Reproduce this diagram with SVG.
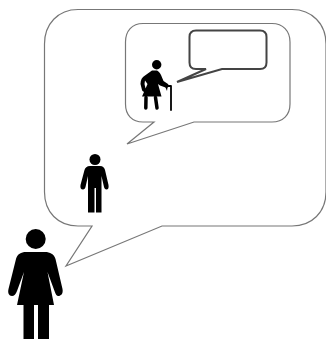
<svg xmlns="http://www.w3.org/2000/svg" width="326" height="341" viewBox="0 0 326 341">
<style>
.b{fill:#fff;stroke:#777;stroke-width:1.2;stroke-linejoin:miter}
.p{fill:#000;stroke:none}
.l{fill:none;stroke:#000;stroke-linecap:round;stroke-linejoin:round}
</style>
<rect width="326" height="341" fill="#fff"/>
<g id="outer-bubble"><path class="b" d="M78 9.500H292C312 9.500 326 24 326 44V192C326 212 312 226 292 226H162L66 266L92 226H78C58 226 44.500 212 44.500 192V44C44.500 24 58 9.500 78 9.500Z"/></g>
<g id="inner-bubble"><path class="b" d="M143 23.500H272C283 23.500 290 31 290 42V104C290 115 283 122 272 122H194L127 144L154 122H143C132 122 125.500 115 125.500 104V42C125.500 31 132 23.500 143 23.500Z"/></g>
<g id="small-bubble"><path d="M196 30.500H260C264 30.500 266.500 33 266.500 37V62.500C266.500 66.500 264 69 260 69H222L177 82L206 69H196C192 69 189.500 66.500 189.500 62.500V37C189.500 33 192 30.500 196 30.500Z" fill="#fff" stroke="#444" stroke-width="2"/></g>
<g id="woman">
<circle class="p" cx="35.700" cy="239" r="10"/>
<path class="p" d="M26 252H45C50 252 54 254 55.500 259L62.500 289C63.500 294 60.500 296 58.500 296C56.500 296 55.500 294 54.500 291L47.500 272L54 305H49V339H38V305H34V339H23.500V305H17L24 272L17 291C16 294 14 296 12 296C9 296 7.500 293 8.500 289L16 259C17.500 254 21 252 26 252Z"/>
</g>
<g id="man">
<circle class="p" cx="95" cy="159.500" r="5.500"/>
<path class="p" d="M90 166H100C103 166 104.500 168 105 170L108.500 185C109 188 108 189.500 106.500 189.500C105 189.500 104.500 188.500 104 187L101.500 176V212.500H96V188H94.500V212.500H88V176L85.500 187C85 188.500 84.500 189.500 83 189.500C81 189.500 80 188 80.500 185L84.500 170C85 168 87 166 90 166Z"/>
</g>
<g id="old-woman">
<circle class="p" cx="156.700" cy="64.700" r="4.700"/>
<path class="p" d="M152 70.500H157C158.500 71 160 73 161 75L163.500 81L168 84C169 85 169 87.500 167.500 87.500L167 91L165.500 87.500L160 85.500L158 84L161.500 96.500H142L147.500 84L145 80.500L144.500 84L146 90.500C145.500 92.500 142.500 92 142 90L140.500 84C140.500 80 142 77 145 75.500Z"/>
<path class="l" stroke-width="3.500" d="M146 97.500L145.800 108M155.500 97.500L157 108"/>
<path class="l" stroke-width="1.800" d="M166.500 87V86H171V110"/>
</g>
</svg>
